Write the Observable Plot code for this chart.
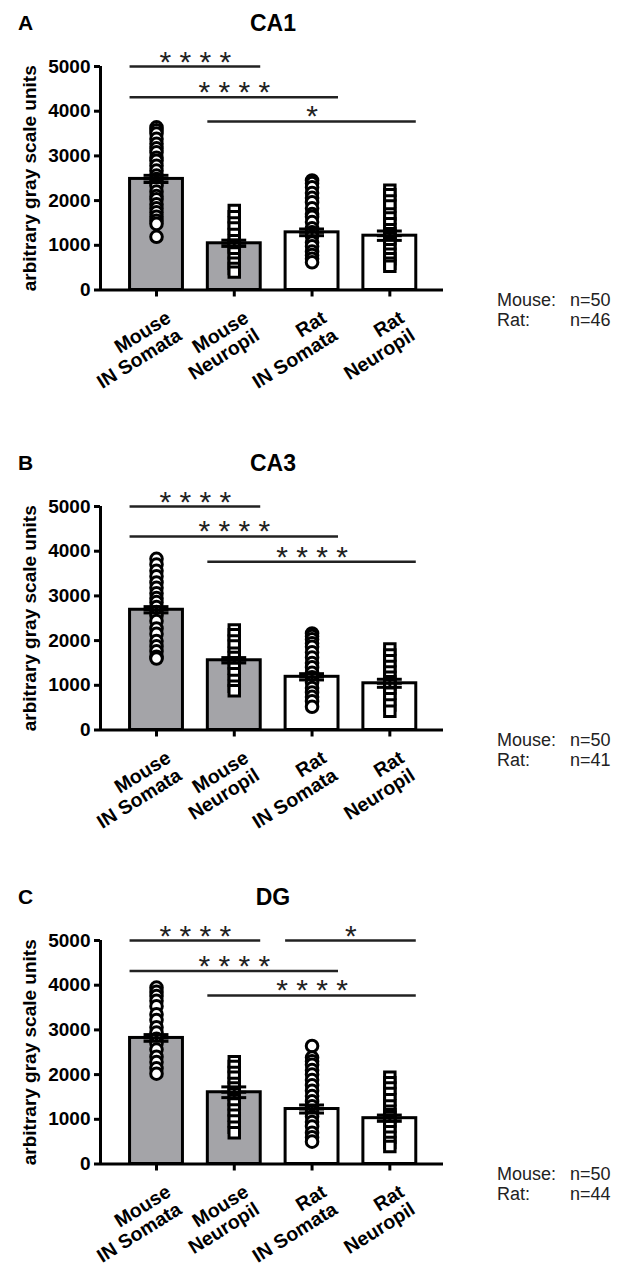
<!DOCTYPE html>
<html>
<head>
<meta charset="utf-8">
<script src="https://cdn.jsdelivr.net/npm/d3@7"></script>
<script src="https://cdn.jsdelivr.net/npm/@observablehq/plot@0.6"></script>
<style>
  html, body { margin: 0; padding: 0; background: #fff; overflow: hidden; }
  body { width: 622px; height: 1267px; position: relative; font-family: Arial, "Liberation Sans", Helvetica, sans-serif; }
  .panel { position: absolute; left: 0; width: 622px; height: 393px; }
  .panel svg { position: absolute; left: 0; top: 0; }
  .letter { position: absolute; left: 18px; top: 12px; font-size: 21px; font-weight: bold; line-height: 1; }
  .title { position: absolute; left: 273px; top: 12px; transform: translateX(-50%); font-size: 23px; font-weight: bold; line-height: 1; }
  .legend { position: absolute; left: 497px; top: 290px; font-size: 18px; line-height: 20px; color: #222; }
  .legend span.k { display: inline-block; width: 73px; }
</style>
</head>
<body>
<script>
// ---------- shared categories / ticks ----------
const groups   = ["Mouse\nIN Somata", "Mouse\nNeuropil", "Rat\nIN Somata", "Rat\nNeuropil"];
const symbols  = ["circle", "square", "circle", "square"];
const species  = ["Mouse", "Mouse", "Rat", "Rat"];
const yTicks   = [0, 1000, 2000, 3000, 4000, 5000];
const letters  = ["A", "B", "C"];
const titles   = ["CA1", "CA3", "DG"];
const mouseN   = [50, 50, 50];
const ratN     = [46, 41, 44];

// ---------- CA1 ----------
const ca1Means = [2485, 1045, 1290, 1215];
const ca1Sems  = [80, 70, 75, 105];
const ca1Pts = [
  [3640, 3570, 3500, 3380, 3270, 3170, 3080, 2960, 2890, 2780, 2670, 2560, 2480, 2400, 2330, 2200, 2100, 2030, 1920, 1830, 1740, 1640, 1550, 1480, 1190],
  [1780, 1640, 1500, 1390, 1240, 1100, 1000, 960, 830, 700, 600, 480, 400],
  [2450, 2390, 2300, 2170, 2060, 1960, 1830, 1700, 1640, 1520, 1380, 1290, 1200, 1060, 980, 860, 780, 700, 620],
  [2230, 2130, 1990, 1880, 1700, 1610, 1480, 1350, 1260, 1210, 1150, 1040, 900, 800, 700, 600, 530]
];
const ca1SigFrom  = [0, 0, 1];
const ca1SigTo    = [1, 2, 3];
const ca1SigLevel = [5000, 4310, 3770];
const ca1SigText  = ["* * * *", "* * * *", "*"];

// ---------- CA3 ----------
const ca3Means = [2690, 1560, 1190, 1045];
const ca3Sems  = [70, 60, 70, 90];
const ca3Pts = [
  [3830, 3700, 3560, 3440, 3300, 3180, 3060, 2950, 2860, 2750, 2640, 2560, 2440, 2270, 2150, 1990, 1870, 1760, 1640, 1600],
  [2240, 2130, 1990, 1880, 1720, 1620, 1500, 1380, 1260, 1110, 980, 880],
  [2160, 2100, 2030, 1940, 1860, 1740, 1620, 1500, 1400, 1280, 1180, 1060, 940, 840, 740, 640, 520],
  [1810, 1680, 1550, 1420, 1300, 1180, 1080, 1010, 940, 820, 700, 560, 420]
];
const ca3SigFrom  = [0, 0, 1];
const ca3SigTo    = [1, 2, 3];
const ca3SigLevel = [5000, 4330, 3765];
const ca3SigText  = ["* * * *", "* * * *", "* * * *"];

// ---------- DG ----------
const dgMeans = [2820, 1605, 1230, 1025];
const dgSems  = [75, 120, 90, 70];
const dgPts = [
  [3945, 3850, 3760, 3650, 3530, 3350, 3220, 3060, 2940, 2800, 2700, 2560, 2400, 2280, 2140, 2020],
  [2290, 2180, 2050, 1940, 1800, 1700, 1560, 1440, 1340, 1210, 1090, 960, 820, 700],
  [2640, 2380, 2300, 2220, 2100, 2000, 1880, 1760, 1640, 1520, 1400, 1290, 1170, 1060, 940, 840, 700, 600, 500],
  [1940, 1820, 1700, 1580, 1440, 1300, 1180, 1100, 1040, 960, 840, 720, 600, 480, 390]
];
const dgSigFrom  = [0, 2, 0, 1];
const dgSigTo    = [1, 3, 2, 3];
const dgSigLevel = [5000, 5000, 4315, 3772];
const dgSigText  = ["* * * *", "*", "* * * *", "* * * *"];

// ---------- styling constants ----------
const panelTops = [0, 440, 874];
const xDomain = [-0.72, 3.69];
const hw = 0.34;      // half bar width (index units)
const cw = 0.16;      // half error-cap width
const grayFill = "#a4a4a8";
const font = "Arial, 'Liberation Sans', Helvetica, sans-serif";

function drawPanel(k, means, sems, pts, sFrom, sTo, sLevel, sText) {
  const bars = groups.map((g, i) => ({
    i, name: g, mean: means[i], sem: sems[i],
    fill: species[i] === "Mouse" ? grayFill : "white"
  }));
  const dots = [];
  pts.forEach((arr, i) => arr.forEach(v => dots.push({i, v, sym: symbols[i]})));
  const sig = sFrom.map((f, j) => ({from: f, to: sTo[j], level: sLevel[j], label: sText[j]}));

  const chart = Plot.plot({
    width: 622, height: 393,
    marginTop: 66, marginBottom: 103.5, marginLeft: 100, marginRight: 179,
    x: {domain: xDomain},
    y: {domain: [0, 5000]},
    color: {type: "identity"},
    style: {fontFamily: font, fontWeight: "bold", background: "transparent", color: "black", overflow: "visible"},
    marks: [
      Plot.rect(bars, {x1: d => d.i - hw, x2: d => d.i + hw, y1: d => 0, y2: "mean",
        fill: "fill", stroke: "black", strokeWidth: 3}),
      Plot.dot(dots.filter(d => d.sym === "circle"), {x: "i", y: "v", r: 5.8, symbol: "circle",
        fill: "white", stroke: "black", strokeWidth: 3}),
      Plot.dot(dots.filter(d => d.sym === "square"), {x: "i", y: "v", r: 5.9, symbol: "square",
        fill: "white", stroke: "black", strokeWidth: 3}),
      Plot.ruleX(bars, {x: "i", y1: d => d.mean - d.sem, y2: d => d.mean + d.sem, strokeWidth: 3}),
      Plot.ruleY(bars, {y: d => d.mean + d.sem, x1: d => d.i - cw, x2: d => d.i + cw, strokeWidth: 3}),
      Plot.ruleY(bars, {y: d => d.mean - d.sem, x1: d => d.i - cw, x2: d => d.i + cw, strokeWidth: 3}),
      Plot.ruleY(bars, {y: "mean", x1: d => d.i - cw, x2: d => d.i + cw, strokeWidth: 3}),
      // significance brackets
      Plot.ruleY(sig, {y: "level", x1: d => d.from - hw, x2: d => d.to + hw, strokeWidth: 2.5, stroke: "#222"}),
      Plot.text(sig, {x: d => (d.from + d.to) / 2, y: "level", text: "label", fontSize: 30,
        fontWeight: "normal", lineAnchor: "bottom", dy: 5, fill: "#222"}),
      // axes
      Plot.ruleY([0], {strokeWidth: 3}),
      Plot.ruleX([xDomain[0]], {strokeWidth: 3}),
      Plot.axisY({ticks: yTicks, tickFormat: "d", tickSize: 6, tickPadding: 4, strokeWidth: 3,
        fontSize: 19, fontWeight: "bold",
        label: "arbitrary gray scale units", labelAnchor: "center", labelArrow: "none", labelOffset: 78}),
      Plot.axisX({ticks: [0, 1, 2, 3], tickSize: 7, tickFormat: () => "", strokeWidth: 3, label: null}),
      Plot.text(bars, {x: "i", frameAnchor: "bottom", text: "name", rotate: -32,
        textAnchor: "end", lineAnchor: "top", fontSize: 19.5, lineHeight: 1.05,
        fontWeight: "bold", dx: 8, dy: 19})
    ]
  });

  const div = document.createElement("div");
  div.className = "panel";
  div.style.top = panelTops[k] + "px";
  div.appendChild(chart);

  const L = document.createElement("div");
  L.className = "letter"; L.textContent = letters[k];
  div.appendChild(L);

  const T = document.createElement("div");
  T.className = "title"; T.textContent = titles[k];
  div.appendChild(T);

  const G = document.createElement("div");
  G.className = "legend";
  G.innerHTML = `<div><span class="k">Mouse:</span>n=${mouseN[k]}</div><div><span class="k">Rat:</span>n=${ratN[k]}</div>`;
  div.appendChild(G);

  document.body.appendChild(div);
}

drawPanel(0, ca1Means, ca1Sems, ca1Pts, ca1SigFrom, ca1SigTo, ca1SigLevel, ca1SigText);
drawPanel(1, ca3Means, ca3Sems, ca3Pts, ca3SigFrom, ca3SigTo, ca3SigLevel, ca3SigText);
drawPanel(2, dgMeans, dgSems, dgPts, dgSigFrom, dgSigTo, dgSigLevel, dgSigText);
</script>
</body>
</html>
